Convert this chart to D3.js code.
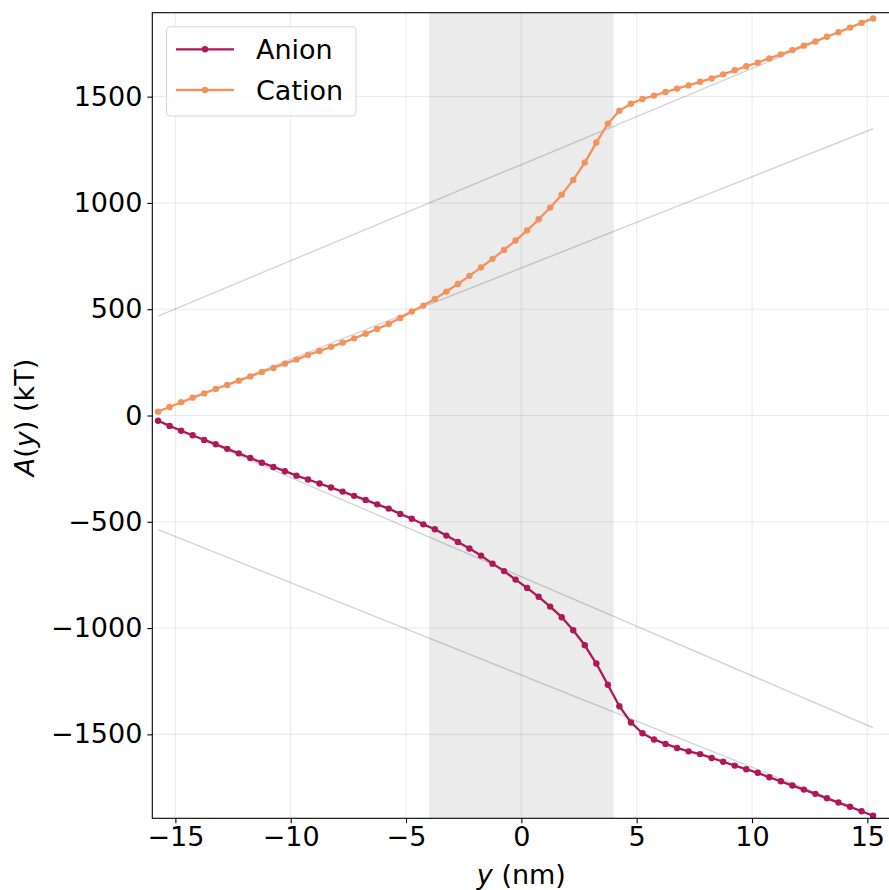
<!DOCTYPE html>
<html>
<head>
<meta charset="utf-8">
<script src="https://cdn.jsdelivr.net/npm/d3@7"></script>
<style>
  html, body { margin: 0; padding: 0; background: #fff; }
  svg { display: block; font-family: "DejaVu Sans", sans-serif; }
</style>
</head>
<body>
<svg id="chart" width="889" height="890"></svg>
<script>
// Positions along the channel (nm), one sample every 0.5 nm
const positions = d3.range(63).map(i => -15.75 + i * 0.5);

// Accumulated work for each ion species (kT)
const anionValues = [
  -25, -49, -72, -93, -115, -135, -157, -178, -200, -222,
  -242, -262, -283, -301, -320, -339, -358, -378, -397, -418,
  -438, -463, -486, -512, -535, -565, -595, -626, -659, -697,
  -732, -772, -811, -853, -899, -949, -1010, -1081, -1167, -1267,
  -1368, -1444, -1495, -1524, -1545, -1564, -1580, -1593, -1611, -1629,
  -1647, -1664, -1681, -1702, -1721, -1741, -1760, -1780, -1801, -1821,
  -1841, -1862, -1883
];
const cationValues = [
  18, 40, 62, 84, 104, 125, 144, 164, 184, 205,
  224, 244, 263, 285, 304, 323, 343, 363, 385, 407,
  431, 459, 489, 517, 548, 583, 619, 657, 697, 737,
  779, 823, 871, 923, 978, 1039, 1108, 1190, 1284, 1373,
  1434, 1467, 1489, 1505, 1522, 1538, 1553, 1570, 1586, 1605,
  1624, 1643, 1660, 1680, 1699, 1719, 1740, 1760, 1782, 1803,
  1825, 1847, 1868
];

// Linear reference fits: [x0, A0, x1, A1]
const fitLines = [
  [-15.75, 468, 15.25, 1870],
  [-15.75, 18, 15.25, 1349],
  [-15.75, -24, 15.25, -1469],
  [-15.75, -537, 15.25, -1883]
];

// Membrane region (nm)
const bandRange = [-4, 4];

const xTicks = [-15, -10, -5, 0, 5, 10, 15];
const yTicks = [-1500, -1000, -500, 0, 500, 1000, 1500];

const seriesNames = ["Anion", "Cation"];
const seriesColors = ["#ae1759", "#f3925c"];

const margin = { left: 152.3, top: 12.7, right: 890.4, bottom: 818.3 };

const svg = d3.select("#chart");
const x = d3.scaleLinear().domain([-16, 16]).range([margin.left, margin.right]);
const y = d3.scaleLinear().domain([-1895, 1895]).range([margin.bottom, margin.top]);

const clipId = "plot-clip";
svg.append("defs").append("clipPath").attr("id", clipId)
  .append("rect")
  .attr("x", margin.left).attr("y", margin.top)
  .attr("width", margin.right - margin.left)
  .attr("height", margin.bottom - margin.top);

const plot = svg.append("g").attr("clip-path", `url(#${clipId})`);

// Shaded membrane band
plot.append("rect")
  .attr("x", x(bandRange[0]))
  .attr("y", margin.top)
  .attr("width", x(bandRange[1]) - x(bandRange[0]))
  .attr("height", margin.bottom - margin.top)
  .attr("fill", "rgba(0,0,0,0.08)");

// Grid
plot.append("g").selectAll("line").data(xTicks).join("line")
  .attr("x1", d => x(d)).attr("x2", d => x(d))
  .attr("y1", margin.top).attr("y2", margin.bottom)
  .attr("stroke", "rgba(0,0,0,0.08)").attr("stroke-width", 1.1);
plot.append("g").selectAll("line").data(yTicks).join("line")
  .attr("y1", d => y(d)).attr("y2", d => y(d))
  .attr("x1", margin.left).attr("x2", margin.right)
  .attr("stroke", "rgba(0,0,0,0.08)").attr("stroke-width", 1.1);

// Fit lines
plot.append("g").selectAll("line").data(fitLines).join("line")
  .attr("x1", d => x(d[0])).attr("y1", d => y(d[1]))
  .attr("x2", d => x(d[2])).attr("y2", d => y(d[3]))
  .attr("stroke", "rgba(0,0,0,0.17)").attr("stroke-width", 1.4);

// Series
const series = [anionValues, cationValues];
const line = d3.line().x(d => x(d[0])).y(d => y(d[1]));
series.forEach((vals, i) => {
  const pts = positions.map((p, j) => [p, vals[j]]);
  const g = plot.append("g");
  g.append("path").datum(pts)
    .attr("d", line)
    .attr("fill", "none")
    .attr("stroke", seriesColors[i])
    .attr("stroke-width", 2.3)
    .attr("stroke-linejoin", "round");
  g.selectAll("circle").data(pts).join("circle")
    .attr("cx", d => x(d[0])).attr("cy", d => y(d[1]))
    .attr("r", 3.2)
    .attr("fill", seriesColors[i]);
});

// Axes
const xAxis = d3.axisBottom(x).tickValues(xTicks).tickSize(4.9).tickPadding(4)
  .tickFormat(d => d < 0 ? "\u2212" + Math.abs(d) : String(d));
const yAxis = d3.axisLeft(y).tickValues(yTicks).tickSize(4.9).tickPadding(5)
  .tickFormat(d => d < 0 ? "\u2212" + Math.abs(d) : String(d));

const gx = svg.append("g").attr("transform", `translate(0,${margin.bottom})`).call(xAxis);
const gy = svg.append("g").attr("transform", `translate(${margin.left},0)`).call(yAxis);
[gx, gy].forEach(g => {
  g.select(".domain").remove();
  g.selectAll(".tick line").attr("stroke", "#000").attr("stroke-width", 1.1);
  g.selectAll(".tick text").attr("fill", "#000")
    .style("font-size", "27px").style("font-family", "DejaVu Sans, sans-serif");
});

// Spines
svg.append("rect")
  .attr("x", margin.left).attr("y", margin.top)
  .attr("width", margin.right - margin.left)
  .attr("height", margin.bottom - margin.top)
  .attr("fill", "none").attr("stroke", "#000").attr("stroke-width", 1.1);

// Axis titles
const xt = svg.append("text")
  .attr("x", x(0)).attr("y", 884)
  .attr("text-anchor", "middle")
  .style("font-size", "27px");
xt.append("tspan").attr("font-style", "italic").text("y");
xt.append("tspan").text(" (nm)");

const yt = svg.append("text")
  .attr("transform", `translate(34,${(margin.top + margin.bottom) / 2 + 2}) rotate(-90)`)
  .attr("text-anchor", "middle")
  .style("font-size", "27px");
yt.append("tspan").attr("font-style", "italic").text("A");
yt.append("tspan").text("(");
yt.append("tspan").attr("font-style", "italic").text("y");
yt.append("tspan").text(") (kT)");

// Legend
const legend = svg.append("g");
legend.append("rect")
  .attr("x", 166.5).attr("y", 26.7)
  .attr("width", 189.5).attr("height", 89.3)
  .attr("rx", 4).attr("ry", 4)
  .attr("fill", "rgba(255,255,255,0.8)")
  .attr("stroke", "#d6d6d6").attr("stroke-width", 1.1);
seriesNames.forEach((name, i) => {
  const ly = 49.3 + i * 40.7;
  legend.append("line")
    .attr("x1", 176).attr("x2", 234).attr("y1", ly).attr("y2", ly)
    .attr("stroke", seriesColors[i]).attr("stroke-width", 2.3);
  legend.append("circle").attr("cx", 205).attr("cy", ly).attr("r", 3.2)
    .attr("fill", seriesColors[i]);
  legend.append("text")
    .attr("x", 256).attr("y", ly + 9.8)
    .style("font-size", "27px")
    .text(name);
});
</script>
</body>
</html>
